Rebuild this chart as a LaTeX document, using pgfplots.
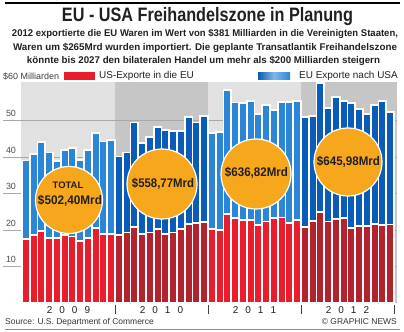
\documentclass[border=0pt]{standalone}
\usepackage{fontspec}
\setmainfont{Liberation Sans}
\usepackage{graphicx}
\usepackage{pgfplots}
\pgfplotsset{compat=1.18}
\usepackage{pgfplotstable}

\definecolor{blueL}{HTML}{2C86D8}
\definecolor{blueD}{HTML}{0B5CB8}
\definecolor{redL}{HTML}{EA1D2C}
\definecolor{redD}{HTML}{B3232E}
\definecolor{panelL}{HTML}{E1E1E1}
\definecolor{panelD}{HTML}{C6C6C6}
\definecolor{gridc}{HTML}{A8A8A8}
\definecolor{orangeC}{HTML}{F6A71C}
\definecolor{txt}{HTML}{231F20}

\pgfplotstableread{
m total us
0 39.0 17.5
1 40.8 18.6
2 44.1 19.7
3 41.2 17.7
4 38.8 17.7
5 41.9 18.6
6 42.5 18.2
7 39.2 17.0
8 41.8 17.8
9 46.6 20.5
10 44.2 18.8
11 44.5 19.0
}\tA
\pgfplotstableread{
m total us
12 40.1 18.6
13 41.2 19.3
14 49.4 20.9
15 43.9 18.8
16 45.4 19.3
17 48.2 20.2
18 47.4 19.0
19 47.0 19.3
20 47.1 20.2
21 50.8 21.6
22 49.4 21.8
23 51.2 22.1
}\tB
\pgfplotstableread{
m total us
24 46.5 20.2
25 46.9 20.0
26 58.2 24.4
27 54.9 23.2
28 54.7 22.7
29 55.3 22.7
30 51.8 21.4
31 54.1 22.3
32 52.9 23.2
33 55.1 23.4
34 55.0 22.0
35 55.4 22.7
}\tC
\pgfplotstableread{
m total us
36 50.9 20.9
37 51.2 22.5
38 60.2 25.0
39 53.3 22.3
40 56.5 22.9
41 55.2 23.2
42 54.7 20.5
43 53.2 21.2
44 51.7 21.2
45 54.2 21.6
46 55.2 21.4
47 52.2 21.5
}\tD

\pgfplotsset{mybar/.style={ybar, bar width=7.75bp, bar shift=0pt, draw=white, line width=1.9bp}}

\begin{document}
\begin{tikzpicture}[x=1bp,y=1bp]
\useasboundingbox (0,0) rectangle (404,332);
% top rule
\draw[black, line width=2.3bp] (5,329.3) -- (400,329.3);
% title
\node[text=txt] at (207.5,315.5) {\resizebox{291bp}{\height}{\fontsize{19.5}{21}\selectfont\bfseries EU - USA Freihandelszone in Planung}};
\node[text=txt] at (205,298) {\resizebox{386bp}{\height}{\fontsize{9.8}{11}\selectfont\bfseries 2012 exportierte die EU Waren im Wert von \$381 Milliarden in die Vereinigten Staaten,}};
\node[text=txt] at (205,284.3) {\resizebox{384bp}{\height}{\fontsize{9.8}{11}\selectfont\bfseries Waren um \$265Mrd wurden importiert. Die geplante Transatlantik Freihandelszone}};
\node[text=txt] at (203.5,271) {\resizebox{353bp}{\height}{\fontsize{9.8}{11}\selectfont\bfseries könnte bis 2027 den bilateralen Handel um mehr als \$200 Milliarden steigern}};
% legend
\node[anchor=west, inner sep=0pt, text=black!75] at (3,256) {\fontsize{9}{10}\selectfont \$60 Milliarden};
\fill[redL] (64,252) rectangle (95,259.5);
\node[anchor=west, inner sep=0pt, text=txt] at (99,256) {\fontsize{10}{11}\selectfont US-Exporte in die EU};
\shade[left color=blueD, right color=blueL, middle color=blueL!60!white] (258,252) rectangle (290,259.5);
\node[anchor=east, inner sep=0pt, text=txt] at (398,256) {\fontsize{10}{11}\selectfont EU Exporte nach USA};

\begin{axis}[
  at={(20.5bp,29bp)}, anchor=south west,
  scale only axis, width=376.5bp, height=221bp,
  xmin=-0.69, xmax=47.89, ymin=0, ymax=60.5,
  clip=false,
  axis line style={draw=none},
  major tick length=0pt,
  ytick={10,20,30,40,50},
  yticklabel style={anchor=south, xshift=-9.5bp, yshift=0bp, font=\fontsize{9}{10}\selectfont, text=black!70},
  /pgf/number format/assume math mode=true,
  xtick={5.5,17.5,29.5,41.5},
  xticklabels={2\hspace{7bp}0\hspace{7bp}0\hspace{7bp}9,2\hspace{7bp}0\hspace{7bp}1\hspace{7bp}0,2\hspace{7bp}0\hspace{7bp}1\hspace{7bp}1,2\hspace{7bp}0\hspace{7bp}1\hspace{7bp}2},
  xticklabel style={font=\fontsize{10}{11}\selectfont, text=txt, yshift=0bp},
]
\fill[panelL] (axis cs:-0.69,0) rectangle (axis cs:11.5,60.5);
\fill[panelD] (axis cs:11.5,0) rectangle (axis cs:23.5,60.5);
\fill[panelL] (axis cs:23.5,0) rectangle (axis cs:35.5,60.5);
\fill[panelD] (axis cs:35.5,0) rectangle (axis cs:47.89,60.5);
\pgfplotsinvokeforeach{10,20,30,40,50}{
  \draw[gridc, line width=0.6bp] (axis cs:-2.95,#1) -- (axis cs:47.89,#1);
}
\addplot[mybar, fill=blueL] table[x=m, y=total] {\tA};
\addplot[mybar, fill=blueD] table[x=m, y=total] {\tB};
\addplot[mybar, fill=blueL] table[x=m, y=total] {\tC};
\addplot[mybar, fill=blueD] table[x=m, y=total] {\tD};
\addplot[mybar, fill=redL] table[x=m, y=us] {\tA};
\addplot[mybar, fill=redD] table[x=m, y=us] {\tB};
\addplot[mybar, fill=redL] table[x=m, y=us] {\tC};
\addplot[mybar, fill=redD] table[x=m, y=us] {\tD};
\pgfplotsinvokeforeach{11.5,23.5,35.5,47.5}{
  \draw[black!75, line width=0.7bp] ([yshift=-2bp]axis cs:#1,0) -- ([yshift=-11bp]axis cs:#1,0);
}
\end{axis}

% circles
\filldraw[fill=orangeC, draw=white, line width=1.2bp] (69,132) circle (33.5);
\filldraw[fill=orangeC, draw=white, line width=1.2bp] (162,148) circle (35);
\filldraw[fill=orangeC, draw=white, line width=1.2bp] (256,158) circle (35);
\filldraw[fill=orangeC, draw=white, line width=1.2bp] (348,170) circle (34);
\node[text=txt] at (68,147) {\fontsize{9.5}{10}\selectfont\bfseries TOTAL};
\node[text=txt] at (70,131) {\resizebox{64bp}{\height}{\fontsize{12.5}{13}\selectfont\bfseries \$502,40Mrd}};
\node[text=txt] at (163,148) {\resizebox{62bp}{\height}{\fontsize{12.5}{13}\selectfont\bfseries \$558,77Mrd}};
\node[text=txt] at (256.5,159) {\resizebox{63bp}{\height}{\fontsize{12.5}{13}\selectfont\bfseries \$636,82Mrd}};
\node[text=txt] at (348.5,170) {\resizebox{63bp}{\height}{\fontsize{12.5}{13}\selectfont\bfseries \$645,98Mrd}};

% footer
\node[anchor=west, inner sep=0pt, text=black!80] at (5,10) {\fontsize{8.5}{9}\selectfont Source: U.S. Department of Commerce};
\node[anchor=east, inner sep=0pt, text=black!80] at (397,10) {\fontsize{8.5}{9}\selectfont © GRAPHIC NEWS};
\draw[black!45, line width=1bp] (5,2.5) -- (400,2.5);
\end{tikzpicture}
\end{document}
